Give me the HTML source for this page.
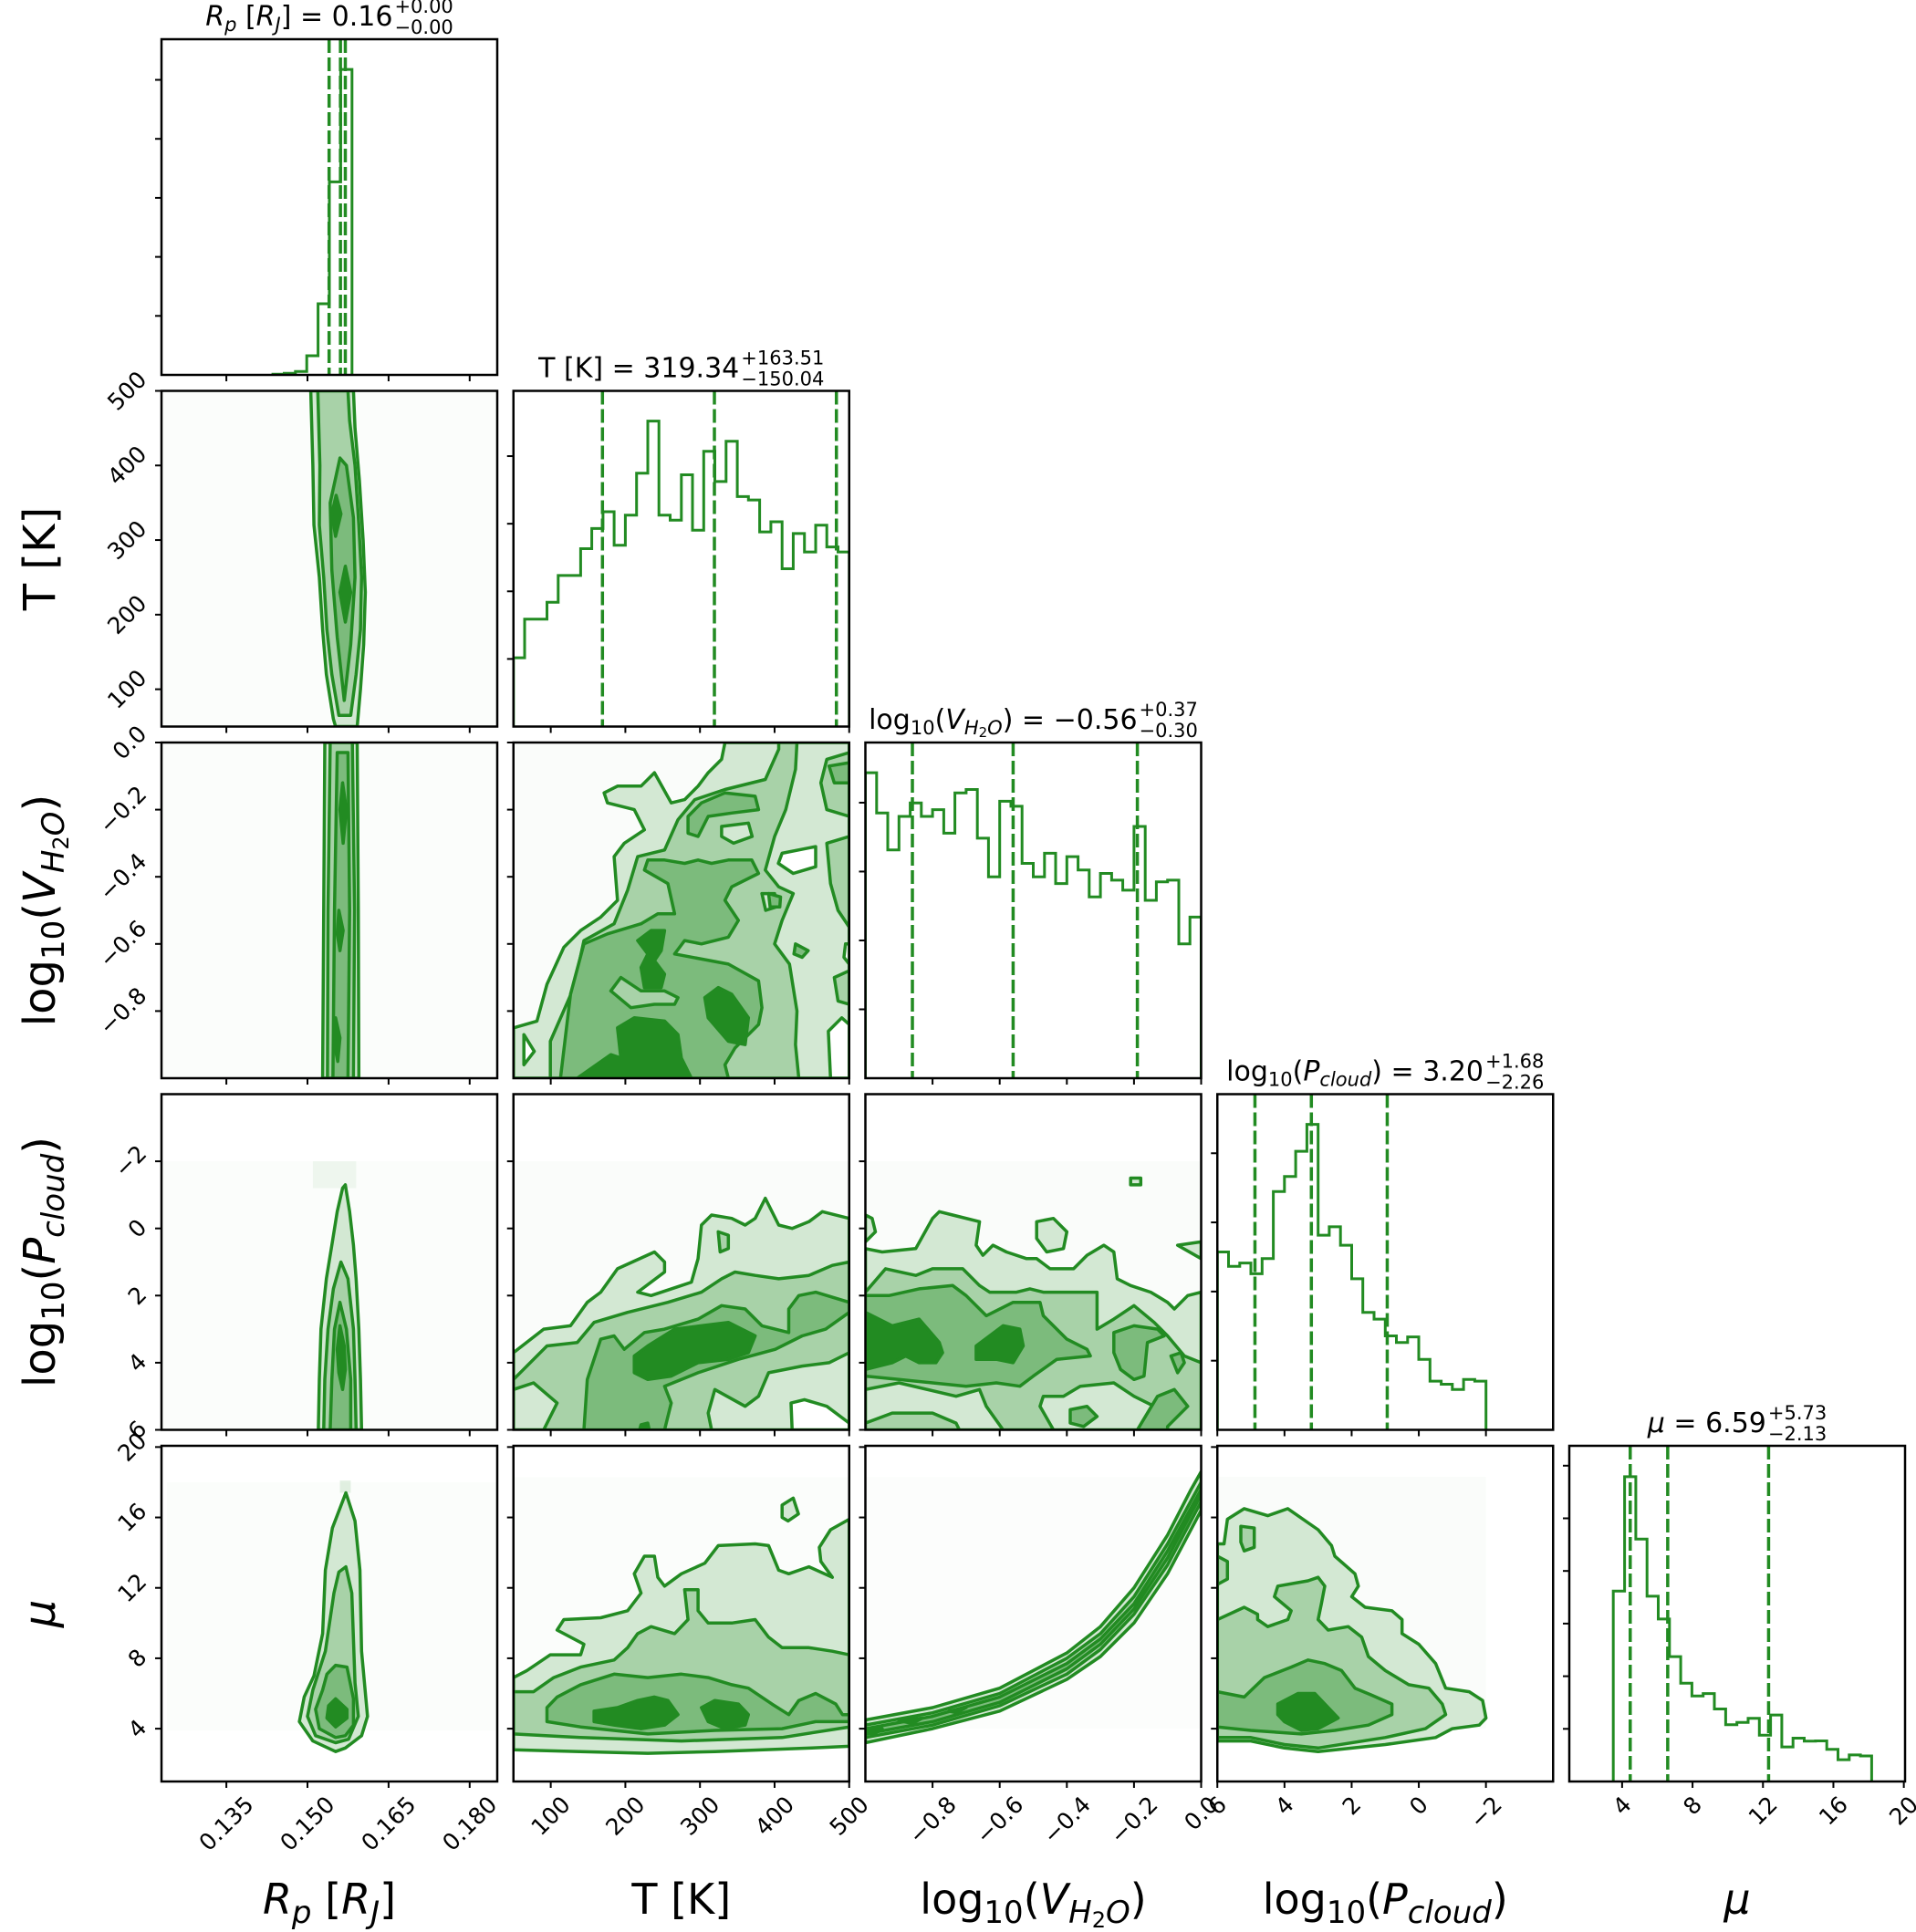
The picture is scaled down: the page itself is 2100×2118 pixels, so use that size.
<!DOCTYPE html>
<html><head><meta charset="utf-8">
<style>
html,body{margin:0;padding:0;background:#fff;}
svg{display:block;font-family:"DejaVu Sans","Liberation Sans",sans-serif;}
</style></head>
<body>
<svg id="fig" xmlns="http://www.w3.org/2000/svg" width="2100" height="2118" viewBox="0 0 2100 2118">
<rect width="2100" height="2118" fill="#ffffff"/>
<defs id="defs"></defs>
<g id="panels"></g>
<g id="labels"></g>
</svg>
<script>
// ---------- data ----------
const varNames = ['Rp','T','V','P','mu'];
const axisRange = [[0.123,0.1851],[50,500],[-1,0],[6,-4],[1,20.07]];
const tickValues = [[0.135,0.150,0.165,0.180],[100,200,300,400,500],[-0.8,-0.6,-0.4,-0.2,0.0],[6,4,2,0,-2],[4,8,12,16,20]];
const tickLabels = [['0.135','0.150','0.165','0.180'],['100','200','300','400','500'],['\u22120.8','\u22120.6','\u22120.4','\u22120.2','0.0'],['6','4','2','0','\u22122'],['4','8','12','16','20']];

const rpHistStart = 0.1436, rpHistStep = 0.00209;
const rpHist = [0.002,0.005,0.01,0.057,0.212,0.575,0.91];
const tHistStart = 50, tHistStep = 15;
const tHist = [.205,.32,.32,.37,.45,.45,.53,.59,.64,.54,.63,.755,.91,.63,.615,.75,.585,.82,.73,.85,.685,.675,.58,.61,.47,.575,.52,.60,.535,.52];
const vHistStart = -1, vHistStep = 1/30;
const vHist = [.91,.79,.68,.78,.82,.78,.80,.73,.85,.86,.715,.60,.825,.81,.64,.60,.67,.58,.66,.62,.54,.61,.59,.56,.75,.53,.585,.59,.40,.48];
const pHistStart = 6, pHistStep = -1/3;
const pHist = [.53,.487,.497,.465,.51,.71,.755,.83,.91,.58,.605,.55,.45,.35,.33,.28,.26,.277,.21,.145,.136,.12,.15,.145];
const muHistStart = 3.5, muHistStep = 0.638;
const muHist = [.567,.908,.722,.552,.484,.372,.293,.255,.262,.216,.169,.176,.188,.138,.198,.103,.129,.12,.121,.096,.065,.079,.076];

const rpQuant = [0.1540,0.1561,0.1570];
const tQuant = [169.30,319.34,482.85];
const vQuant = [-0.86,-0.56,-0.19];
const pQuant = [4.88,3.20,0.94];
const muQuant = [4.46,6.59,12.32];

const countTickStep = [0.1758,0.2014,0.2052,0.206,0.1568];
const countTickN = [5,4,4,4,6];

const titleUps = ['+0.00','+163.51','+0.37','+1.68','+5.73'];
const titleDowns = ['\u22120.00','\u2212150.04','\u22120.30','\u22122.26','\u22122.13'];

const tr_L1 = [[[0.1506,500],[0.1510,400],[0.1512,320],[0.1522,250],[0.1528,180],[0.1535,120],[0.1548,60],[0.1552,50],[0.1592,50],[0.1598,100],[0.1604,160],[0.1607,230],[0.1603,300],[0.1596,380],[0.1588,450],[0.1585,500]]];
const tr_L2 = [[[0.1519,500],[0.1523,400],[0.1522,320],[0.1530,250],[0.1536,180],[0.1545,120],[0.1558,65],[0.1580,65],[0.1590,120],[0.1598,180],[0.1600,250],[0.1595,320],[0.1588,400],[0.1578,460],[0.1575,500]]];
const tr_L3 = [[[0.1560,410],[0.1542,350],[0.1545,260],[0.1555,170],[0.1568,85],[0.1580,160],[0.1588,250],[0.1585,330],[0.1572,400]]];
const tr_L4 = [[[0.1553,360],[0.1545,335],[0.1552,305],[0.1562,335]],[[0.1570,265],[0.1560,230],[0.1570,190],[0.1580,230]]];

const vr_L1 = [[[0.1532,0],[0.1530,-0.5],[0.1528,-1],[0.1595,-1],[0.1594,-0.5],[0.1592,0]]];
const vr_L2 = [[[0.1542,0],[0.1538,-0.5],[0.1537,-1],[0.1585,-1],[0.1587,-0.5],[0.1583,0]]];
const vr_L3 = [[[0.1555,-0.03],[0.1550,-0.5],[0.1547,-1],[0.1575,-1],[0.1578,-0.5],[0.1575,-0.03]]];
const vr_L4 = [[[0.1565,-0.12],[0.1560,-0.2],[0.1566,-0.3],[0.1572,-0.2]],[[0.1558,-0.5],[0.1555,-0.57],[0.1560,-0.62],[0.1566,-0.56]],[[0.1552,-0.82],[0.1550,-0.9],[0.1556,-0.95],[0.1560,-0.88]]];

const pr_L1 = [[[0.1570,-1.3],[0.1578,-0.5],[0.1585,0.5],[0.1590,1.5],[0.1595,3],[0.1598,4.5],[0.1600,6],[0.1520,6],[0.1522,4.5],[0.1525,3],[0.1535,1.5],[0.1545,0.5],[0.1555,-0.5],[0.1565,-1.2]]];
const pr_L2 = [[[0.1562,1.0],[0.1575,1.5],[0.1585,3],[0.1588,4.5],[0.1590,6],[0.1530,6],[0.1532,4.5],[0.1538,3],[0.1548,1.8]]];
const pr_L3 = [[[0.1560,2.2],[0.1572,3],[0.1580,4.5],[0.1580,6],[0.1542,6],[0.1545,4.5],[0.1550,3]]];
const pr_L4 = [[[0.1560,2.9],[0.1568,3.5],[0.1570,4.2],[0.1565,4.8],[0.1558,4.3],[0.1555,3.6]]];

const mr_L1 = [[[0.1571,17.4],[0.1588,15.8],[0.1597,13],[0.1600,8.4],[0.1611,4.7],[0.1600,3.6],[0.1570,2.9],[0.1552,2.7],[0.1510,3.3],[0.1485,4.4],[0.1494,5.8],[0.1512,7],[0.1528,9.4],[0.1533,13],[0.1546,15.4]]];
const mr_L2 = [[[0.1571,13.2],[0.1582,11.7],[0.1588,6.6],[0.1594,4.7],[0.1576,3.4],[0.1552,3.2],[0.1515,3.6],[0.1500,4.7],[0.1510,6.2],[0.1533,8.4],[0.1549,11.7],[0.1558,12.9]]];
const mr_L3 = [[[0.1552,7.6],[0.1573,7.5],[0.1585,5.7],[0.1585,4.2],[0.1570,3.6],[0.1552,3.5],[0.1522,4.0],[0.1515,5.1],[0.1528,6.2],[0.1536,7.1]]];
const mr_L4 = [[[0.1552,5.7],[0.1573,5.1],[0.1573,4.6],[0.1552,4.1],[0.1536,4.6],[0.1539,5.3]]];

const tv_L1 = [[[50,-1],[50,-.85],[81.5,-.83],[95,-.72],[117.5,-.61],[140,-.56],[167,-.52],[189.5,-.47],[185,-.34],[198.5,-.3],[225.5,-.26],[212,-.2],[176,-.18],[171.5,-.15],[189.5,-.13],[221,-.13],[239,-.09],[261.5,-.18],[279.5,-.17],[297.5,-.13],[311,-.09],[329,-.05],[333.5,0],[500,0],[500,-1]]];
const tv_H0 = [[[410,-.33],[455,-.31],[455,-.37],[425,-.39],[405,-.36]],[[475,-1],[472,-.86],[490,-.82],[500,-.84],[500,-1]],[[410,-.7],[420,-.69],[423,-.77],[412,-.8],[405,-.74]],[[405,-.14],[420,-.13],[418,-.17],[403,-.17]],[[495,-.6],[500,-.6],[500,-.66],[493,-.64]],[[64,-.87],[78,-.92],[64,-.96]]];
const tv_L2 = [[[99.5,-1],[99.5,-.89],[131,-.73],[144.5,-.59],[185,-.54],[203,-.44],[216.5,-.34],[252.5,-.32],[270.5,-.23],[293,-.17],[333.5,-.14],[387.5,-.11],[405.5,-.02],[405.5,0],[430,0],[428,-.08],[415,-.2],[400,-.28],[387.5,-.38],[405.5,-.43],[425,-.45],[410,-.53],[400,-.6],[420,-.66],[430,-.8],[428,-.9],[432.5,-1]],
  [[470,-.05],[500,-.03],[500,-.22],[470,-.2],[462,-.12]],[[470,-.3],[500,-.28],[500,-.55],[485,-.5],[475,-.42]],[[480,-.7],[500,-.68],[500,-.78],[485,-.77]]];
const tv_H1 = [[[329,-.25],[365,-.24],[370,-.28],[345,-.3],[329,-.28]],[[383,-.45],[400,-.45],[402,-.49],[388,-.5]]];
const tv_L3 = [[[113,-1],[126.5,-.75],[144.5,-.6],[176,-.57],[221,-.54],[243.5,-.51],[266,-.51],[257,-.42],[225.5,-.38],[230,-.35],[252.5,-.35],[279.5,-.36],[297.5,-.35],[315.5,-.36],[338,-.35],[369.5,-.35],[378.5,-.39],[342.5,-.43],[333.5,-.47],[351.5,-.53],[338,-.58],[302,-.6],[279.5,-.59],[266,-.63],[338,-.66],[378.5,-.71],[383,-.79],[378.5,-.84],[347,-.91],[333.5,-.96],[338,-1]],
  [[284,-.22],[302,-.18],[333.5,-.15],[374,-.16],[378.5,-.2],[342.5,-.21],[311,-.22],[297.5,-.28],[284,-.27]],
  [[473,-.07],[500,-.06],[500,-.12],[480,-.12]],[[392,-.45],[408,-.46],[407,-.49],[394,-.49]],[[428,-.6],[445,-.62],[437,-.64],[426,-.63]]];
const tv_H2 = [[[180.5,-.74],[194,-.7],[221,-.74],[252.5,-.74],[270.5,-.76],[266,-.78],[239,-.78],[207.5,-.79]]];
const tv_L4 = [[[216.5,-.59],[234.5,-.56],[252.5,-.56],[248,-.62],[239,-.65],[252.5,-.69],[248,-.73],[225.5,-.73],[221,-.67],[230,-.63]],
  [[306.5,-.76],[324.5,-.73],[342.5,-.75],[365,-.82],[360.5,-.9],[338,-.89],[311,-.82]],
  [[135.5,-1],[180.5,-.93],[194,-.94],[189.5,-.85],[212,-.82],[252.5,-.83],[270.5,-.87],[275,-.94],[288.5,-1]]];

const tp_L1 = [[[50,3.7],[90.5,3],[126.5,2.9],[149,2.2],[167,1.9],[189.5,1.2],[239,0.7],[252.5,1],[252.5,1.3],[216.5,1.9],[234.5,2],[275,1.7],[288.5,1.6],[297.5,0.9],[302,-0.1],[315.5,-0.4],[342.5,-0.3],[360.5,-0.1],[374,-0.3],[387.5,-0.9],[405.5,-0.1],[423.5,0],[446,-0.2],[464,-0.5],[500,-0.3],[500,6],[50,6]]];
const tp_H0 = [[[423.5,6],[422,5.2],[440,5.1],[470,5.3],[500,5.8],[500,6]]];
const tp_L2 = [[[50,4.5],[95,3.5],[135.5,3.4],[158,2.8],[203,2.5],[257,2.2],[302,1.9],[329,1.5],[347,1.3],[374,1.4],[405.5,1.5],[446,1.4],[477.5,1.1],[500,1],[500,3.7],[473,4],[437,4.1],[392,4.3],[378.5,5],[360.5,5.3],[320,4.8],[311,5.5],[315.5,6],[90.5,6],[108.5,5.2],[77,4.6],[50,4.8]],[[324.5,0.1],[338,0.2],[338,0.6],[327,0.7]]];
const tp_L3 = [[[144.5,6],[149,4.5],[167,3.3],[185,3.2],[198.5,3.6],[225.5,3.1],[252.5,3],[297.5,2.7],[329,2.3],[360.5,2.4],[383,2.9],[419,3.1],[419,2.4],[432.5,2],[455,1.9],[500,2.2],[500,2.5],[468.5,3],[437,3.2],[401,3.6],[351.5,3.9],[297.5,4.3],[252.5,4.7],[261.5,5.2],[252.5,6]]];
const tp_L4 = [[[212,3.8],[230,3.5],[266,3],[302,2.9],[338,2.8],[374,3.2],[365,3.7],[338,3.9],[297.5,4],[261.5,4.4],[230,4.5],[212,4.3]],[[221,5.85],[230,5.8],[232,6],[219,6]]];

const vp_L1 = [[[-1,0.6],[-0.95,0.7],[-0.85,0.6],[-0.8,-0.3],[-0.78,-0.5],[-0.74,-0.4],[-0.66,-0.2],[-0.67,0.5],[-0.65,0.8],[-0.62,0.5],[-0.58,0.7],[-0.52,0.9],[-0.49,0.9],[-0.45,1.2],[-0.42,1.2],[-0.38,1.2],[-0.34,0.8],[-0.29,0.5],[-0.26,0.7],[-0.25,1.5],[-0.21,1.7],[-0.15,1.9],[-0.1,2.2],[-0.08,2.4],[-0.04,2],[0,1.9],[0,6],[-1,6]],
  [[-1,-0.4],[-0.98,-0.3],[-0.97,0.1],[-1,0.4]],[[-0.49,-0.2],[-0.44,-0.3],[-0.4,0.1],[-0.41,0.6],[-0.46,0.7],[-0.49,0.3]],[[-0.21,-1.5],[-0.18,-1.5],[-0.18,-1.3],[-0.21,-1.3]],[[-0.07,0.5],[0,0.4],[0,0.9]]];
const vp_L2 = [[[-1,1.9],[-0.94,1.2],[-0.85,1.4],[-0.8,1.2],[-0.71,1.2],[-0.66,1.7],[-0.63,1.9],[-0.55,1.9],[-0.51,1.8],[-0.47,1.9],[-0.4,1.9],[-0.31,1.9],[-0.31,3],[-0.26,2.7],[-0.2,2.3],[-0.14,2.8],[-0.1,3.2],[-0.05,3.8],[0,4],[0,6],[-0.13,6],[-0.15,5.9],[-0.14,5.3],[-0.2,5],[-0.26,4.6],[-0.36,4.7],[-0.41,5],[-0.47,5],[-0.48,5.3],[-0.44,6],[-0.59,6],[-0.64,5.3],[-0.66,4.8],[-0.73,5],[-0.9,4.6],[-1,4.8]],
  [[-1,5.8],[-0.92,5.5],[-0.8,5.5],[-0.73,5.8],[-0.72,6],[-1,6]]];
const vp_L3 = [[[-1,2],[-0.93,2],[-0.84,1.8],[-0.74,1.7],[-0.7,2],[-0.64,2.6],[-0.56,2.2],[-0.48,2.2],[-0.47,2.6],[-0.4,3.3],[-0.34,3.6],[-0.33,3.8],[-0.43,3.9],[-0.5,4.4],[-0.54,4.7],[-0.61,4.6],[-0.7,4.7],[-0.8,4.6],[-0.9,4.5],[-1,4.4]],
  [[-0.26,3.1],[-0.2,2.9],[-0.13,3],[-0.11,3.2],[-0.16,3.4],[-0.17,4.4],[-0.2,4.5],[-0.24,4.2],[-0.26,3.7]],
  [[-0.09,3.8],[-0.06,3.7],[-0.05,4],[-0.07,4.3]],[[-0.19,6],[-0.13,5],[-0.08,4.8],[-0.04,5.3],[-0.1,5.9],[-0.1,6]],[[-0.39,5.4],[-0.34,5.3],[-0.31,5.6],[-0.35,5.9],[-0.39,5.8]]];
const vp_L4 = [[[-1,2.5],[-0.92,2.9],[-0.84,2.7],[-0.78,3.4],[-0.77,3.7],[-0.79,4],[-0.84,4],[-0.88,3.8],[-0.92,4],[-1,4.2]],[[-0.67,3.5],[-0.59,2.9],[-0.54,3],[-0.53,3.5],[-0.56,4],[-0.61,3.9],[-0.67,3.9]]];

const tm_L1 = [[[50,6.9],[68,7.3],[99.5,8.2],[140,8.2],[144.5,8.8],[108.5,9.6],[117.5,10.2],[167,10.3],[203,10.7],[221,11.7],[212,12.8],[225.5,13.8],[239,13.8],[243.5,12.6],[252.5,12.1],[275,12.8],[306.5,13.4],[324.5,14.4],[374,14.5],[392,14.4],[405.5,13],[419,12.8],[446,13.2],[477.5,12.6],[462,13.5],[460,14.3],[475,15.3],[500,15.9],[500,3.0],[450,2.9],[320,2.7],[230,2.6],[140,2.7],[50,2.8]],
  [[410,16.7],[425,17.1],[432,16.2],[418,15.8],[410,16]]];
const tm_L2 = [[[50,6.1],[77,6.1],[104,6.9],[140,7.5],[185,7.9],[203,8.6],[216.5,9.4],[234.5,9.8],[266,9.4],[284,10.2],[279.5,11.9],[297.5,11.9],[297.5,10.7],[311,10],[342.5,10],[374,10.2],[392,9.2],[410,8.6],[446,8.6],[477.5,8.4],[500,8.2],[500,4.1],[410,3.5],[275,3.3],[140,3.5],[50,3.7]]];
const tm_L3 = [[[95,5.2],[108.5,5.8],[140,6.5],[185,7.1],[230,6.9],[275,7.1],[311,6.9],[342.5,6.5],[365,6.3],[396.5,5.4],[419,4.8],[432.5,5.6],[455,6],[482,5.4],[491,4.8],[500,4.8],[500,4.4],[455,4.4],[410,4.0],[320,3.9],[230,3.7],[140,4.1],[95,4.4]]];
const tm_L4 = [[[158,5],[189.5,5.2],[216.5,5.6],[239,5.8],[257,5.6],[270.5,4.8],[252.5,4.2],[221,4.0],[185,4.2],[158,4.4]],[[302,5.2],[320,5.6],[351.5,5.4],[365,4.8],[360.5,4.2],[333.5,4.0],[311,4.4]]];

const vm_L1 = [[[-1,4.5],[-0.8,5.2],[-0.6,6.3],[-0.4,8.3],[-0.3,9.8],[-0.2,12],[-0.1,15],[-0.03,17.6],[0,18.6],[0,16.4],[-0.1,12.8],[-0.2,10],[-0.3,8.1],[-0.4,6.8],[-0.6,5],[-0.8,4.0],[-1,3.2]]];
const vm_L2 = [[[-1,4.2],[-0.8,4.9],[-0.6,6],[-0.4,8],[-0.3,9.4],[-0.2,11.5],[-0.1,14.5],[0,18],[0,16.9],[-0.1,13.3],[-0.2,10.5],[-0.3,8.5],[-0.4,7.1],[-0.6,5.3],[-0.8,4.2],[-1,3.5]]];
const vm_L3 = [[[-1,4.0],[-0.8,4.7],[-0.6,5.8],[-0.4,7.7],[-0.3,9.1],[-0.2,11.1],[-0.1,14.1],[0,17.6],[0,17.3],[-0.1,13.7],[-0.2,10.8],[-0.3,8.8],[-0.4,7.4],[-0.6,5.5],[-0.8,4.4],[-1,3.7]]];
const vm_L4 = [[[-1,4.0],[-0.95,4.0],[-0.97,3.75],[-1,3.7]],[[-0.9,4.45],[-0.83,4.6],[-0.86,4.3]],[[-0.75,5.0],[-0.7,5.2],[-0.73,4.9]]];

const pm_L1 = [[[6,14.5],[5.8,14.5],[5.7,15.9],[5.2,16.5],[4.5,16.1],[3.9,16.5],[3,15.3],[2.6,14.4],[2.5,13.8],[1.9,12.8],[1.8,12.1],[2,11.5],[1.6,10.9],[0.8,10.7],[0.5,10.2],[0.5,9.4],[0,8.8],[-0.5,7.7],[-0.8,6.3],[-1.5,6.1],[-1.9,5.6],[-2,4.6],[-1.8,4.2],[-1,4.0],[-0.5,3.5],[1,3.1],[3,2.7],[4,2.9],[5,3.3],[6,3.3]]];
const pm_L2 = [[[6,10.2],[5.2,10.9],[4.8,10.5],[4.8,10.2],[4.5,9.8],[3.9,10.2],[3.8,10.7],[4.3,11.5],[4.2,12.1],[3.3,12.4],[3,12.6],[2.8,12.1],[2.9,11.1],[3,10.2],[2.7,9.6],[2.1,9.8],[1.7,9.2],[1.5,8.1],[1,7.3],[0.3,6.5],[-0.3,6.3],[-0.7,5.4],[-0.8,4.8],[-0.2,4.0],[1,3.5],[3,2.9],[4,3.1],[5,3.5],[6,3.5]],
  [[5.3,15.5],[4.9,15.4],[4.9,14.3],[5.2,14.1],[5.3,14.6]],[[6,13.8],[5.7,13.5],[5.7,12.5],[6,12.2]]];
const pm_L3 = [[[6,6.1],[5.2,5.8],[4.6,6.9],[3.8,7.5],[3.3,7.9],[2.8,7.7],[2.3,7.3],[1.9,6.3],[1.4,5.9],[0.8,5.4],[0.8,4.8],[1.5,4.2],[2.5,3.9],[3.5,3.7],[5,3.9],[6,4.1]]];
const pm_L4 = [[[4.2,5.4],[3.6,6],[3.1,6],[2.6,5],[2.4,4.6],[3,4.0],[3.5,3.9],[4,4.4],[4.2,4.8]]];

const dotsTR = [[0.123,0.1851,50,500,0.02]];
const dotsVR = [[0.123,0.1851,-1,0,0.02]];
const dotsPR = [[0.123,0.1851,-2,6,0.02],[0.151,0.159,-2,-1.2,0.06]];
const dotsMR = [[0.124,0.185,3.9,18,0.02],[0.156,0.158,17.4,18.1,0.12]];
const dotsTV = [[50,500,-1,0,0.025]];
const dotsTP = [[50,500,-2,6,0.025]];
const dotsVP = [[-1,0,-2,6,0.025]];
const dotsTM = [[50,500,4,18.3,0.02]];
const dotsVM = [[-1,0,4,18.3,0.015]];
const dotsPM = [[6,-2,4,18.3,0.025]];

const panels2d = [
 {r:1,c:0,name:'t-vs-rp',dots:dotsTR,layers:[[1,tr_L1],[2,tr_L2],[3,tr_L3],[4,tr_L4]]},
 {r:2,c:0,name:'vh2o-vs-rp',dots:dotsVR,layers:[[1,vr_L1],[2,vr_L2],[3,vr_L3],[4,vr_L4]]},
 {r:2,c:1,name:'vh2o-vs-t',dots:dotsTV,layers:[[1,tv_L1],[0,tv_H0],[2,tv_L2],[1,tv_H1],[3,tv_L3],[2,tv_H2],[4,tv_L4]]},
 {r:3,c:0,name:'pcloud-vs-rp',dots:dotsPR,layers:[[1,pr_L1],[2,pr_L2],[3,pr_L3],[4,pr_L4]]},
 {r:3,c:1,name:'pcloud-vs-t',dots:dotsTP,layers:[[1,tp_L1],[0,tp_H0],[2,tp_L2],[3,tp_L3],[4,tp_L4]]},
 {r:3,c:2,name:'pcloud-vs-vh2o',dots:dotsVP,layers:[[1,vp_L1],[2,vp_L2],[3,vp_L3],[4,vp_L4]]},
 {r:4,c:0,name:'mu-vs-rp',dots:dotsMR,layers:[[1,mr_L1],[2,mr_L2],[3,mr_L3],[4,mr_L4]]},
 {r:4,c:1,name:'mu-vs-t',dots:dotsTM,layers:[[1,tm_L1],[2,tm_L2],[3,tm_L3],[4,tm_L4]]},
 {r:4,c:2,name:'mu-vs-vh2o',dots:dotsVM,layers:[[1,vm_L1],[2,vm_L2],[3,vm_L3],[4,vm_L4]]},
 {r:4,c:3,name:'mu-vs-pcloud',dots:dotsPM,layers:[[1,pm_L1],[2,pm_L2],[3,pm_L3],[4,pm_L4]]}
];
const hists = [
 {i:0,start:rpHistStart,step:rpHistStep,h:rpHist,q:rpQuant},
 {i:1,start:tHistStart,step:tHistStep,h:tHist,q:tQuant},
 {i:2,start:vHistStart,step:vHistStep,h:vHist,q:vQuant},
 {i:3,start:pHistStart,step:pHistStep,h:pHist,q:pQuant},
 {i:4,start:muHistStart,step:muHistStep,h:muHist,q:muQuant}
];

// ---------- layout / scales ----------
const NS = 'http://www.w3.org/2000/svg';
const L0 = 177, DX = 385.75, T0 = 43, DY = 385.5, S = 368;
const GREEN = '#228b22';
const TICKFS = 25;
const levelFill = ['#ffffff','#d3e8d3','#a8d2a8','#7cbb7c','#228b22'];
function colLeft(c){return L0 + c*DX;}
function rowTop(r){return T0 + r*DY;}
function sx(v,c){const q=axisRange[c];return colLeft(c)+(v-q[0])/(q[1]-q[0])*S;}
function sy(v,r){const q=axisRange[r];return rowTop(r)+S-(v-q[0])/(q[1]-q[0])*S;}
function mk(tag,attrs,parent){const e=document.createElementNS(NS,tag);for(const k in attrs)e.setAttribute(k,attrs[k]);parent.appendChild(e);return e;}

const gP = document.getElementById('panels');
const gL = document.getElementById('labels');
const defsEl = document.getElementById('defs');

function clipFor(r,c){
  const id='clip-'+r+'-'+c;
  const cp=mk('clipPath',{id:id},defsEl);
  mk('rect',{x:colLeft(c),y:rowTop(r),width:S,height:S},cp);
  return 'url(#'+id+')';
}
function drawFrame(r,c,name,parent){
  const f=mk('rect',{x:colLeft(c),y:rowTop(r),width:S,height:S,fill:'none',stroke:'#000','stroke-width':2.5},parent);
  
  
}
function xTicks(r,c,parent){
  const vals=tickValues[c];
  for(let k=0;k<vals.length;k++){
    const x=sx(vals[k],c), y=rowTop(r)+S;
    const t=mk('line',{x1:x,x2:x,y1:y,y2:y+7,stroke:'#000','stroke-width':2},parent);
    
    
    if(r===4){
      const tx=mk('text',{'font-size':TICKFS,'text-anchor':'middle','dominant-baseline':'central'},gL);
      tx.textContent=tickLabels[c][k];
      
      
      const w=tx.getComputedTextLength();
      const cy=y+12+(w+TICKFS)*0.707/2;
      tx.setAttribute('x',x);tx.setAttribute('y',cy);
      tx.setAttribute('transform','rotate(-45 '+x+' '+cy+')');
    }
  }
}
function yTicks(r,c,parent){
  const vals=tickValues[r];
  for(let k=0;k<vals.length;k++){
    const y=sy(vals[k],r), x=colLeft(c);
    const t=mk('line',{x1:x-7,x2:x,y1:y,y2:y,stroke:'#000','stroke-width':2},parent);
    
    
    if(c===0){
      const tx=mk('text',{'font-size':TICKFS,'text-anchor':'middle','dominant-baseline':'central'},gL);
      tx.textContent=tickLabels[r][k];
      
      
      const w=tx.getComputedTextLength();
      const cx=x-12-(w+TICKFS)*0.707/2;
      tx.setAttribute('x',cx);tx.setAttribute('y',y);
      tx.setAttribute('transform','rotate(-45 '+cx+' '+y+')');
    }
  }
}
function polyPath(poly,r,c){
  let d='';
  for(let k=0;k<poly.length;k++){d+=(k?'L':'M')+sx(poly[k][0],c).toFixed(1)+','+sy(poly[k][1],r).toFixed(1);}
  return d+'Z';
}

// ---------- 2D panels ----------
for(const p of panels2d){
  const g=mk('g',{'clip-path':clipFor(p.r,p.c)},gP);
  
  
  for(const d of p.dots){
    const x1=sx(d[0],p.c), x2=sx(d[1],p.c), y1=sy(d[2],p.r), y2=sy(d[3],p.r);
    const rr=mk('rect',{x:Math.min(x1,x2),y:Math.min(y1,y2),width:Math.abs(x2-x1),height:Math.abs(y2-y1),fill:GREEN,'fill-opacity':d[4]},g);
    
    
  }
  for(const layer of p.layers){
    const lev=layer[0];
    for(const poly of layer[1]){
      const path=mk('path',{d:polyPath(poly,p.r,p.c),fill:levelFill[lev],stroke:GREEN,'stroke-width':3.5,'stroke-linejoin':'round'},g);
      
      
    }
  }
  const ga=mk('g',{},gP);
  
  
  xTicks(p.r,p.c,ga);
  yTicks(p.r,p.c,ga);
  drawFrame(p.r,p.c,p.name,ga);
}

// ---------- histograms ----------
for(const h of hists){
  const i=h.i;
  const g=mk('g',{'clip-path':clipFor(i,i)},gP);
  
  
  const base=rowTop(i)+S;
  const hy=(v)=>base-v*S;
  let d='M'+sx(h.start,i).toFixed(1)+','+base;
  for(let k=0;k<h.h.length;k++){
    const xa=sx(h.start+k*h.step,i), xb=sx(h.start+(k+1)*h.step,i), y=hy(h.h[k]);
    d+='L'+xa.toFixed(1)+','+y.toFixed(1)+'L'+xb.toFixed(1)+','+y.toFixed(1);
  }
  d+='L'+sx(h.start+h.h.length*h.step,i).toFixed(1)+','+base;
  const path=mk('path',{d:d,fill:'none',stroke:GREEN,'stroke-width':3},g);
  
  
  for(const qv of h.q){
    const x=sx(qv,i);
    const ln=mk('line',{x1:x,x2:x,y1:rowTop(i),y2:base,stroke:GREEN,'stroke-width':3.5,'stroke-dasharray':'15 5'},g);
    
    
  }
  const ga=mk('g',{},gP);
  
  
  xTicks(i,i,ga);
  for(let k=1;k<=countTickN[i];k++){
    const y=hy(k*countTickStep[i]);
    const t=mk('line',{x1:colLeft(i)-7,x2:colLeft(i),y1:y,y2:y,stroke:'#000','stroke-width':2},ga);
    
    
  }
  drawFrame(i,i,'hist-'+varNames[i],ga);
}

// ---------- titles ----------
const SUB='font-size="21" dy="6"', UP='dy="-6"';
const titleMains=[
 '<tspan font-style="italic">R</tspan><tspan font-style="italic" '+SUB+'>p</tspan><tspan '+UP+'> [</tspan><tspan font-style="italic">R</tspan><tspan font-style="italic" '+SUB+'>J</tspan><tspan '+UP+'>] = 0.16</tspan>',
 'T [K] = 319.34',
 'log<tspan '+SUB+'>10</tspan><tspan '+UP+'>(</tspan><tspan font-style="italic">V</tspan><tspan font-style="italic" '+SUB+'>H</tspan><tspan font-size="15" dy="3">2</tspan><tspan font-style="italic" font-size="21" dy="-3">O</tspan><tspan '+UP+'>) = \u22120.56</tspan>',
 'log<tspan '+SUB+'>10</tspan><tspan '+UP+'>(</tspan><tspan font-style="italic">P</tspan><tspan font-style="italic" '+SUB+'>cloud</tspan><tspan '+UP+'>) = 3.20</tspan>',
 '<tspan font-style="italic">\u03bc</tspan> = 6.59'
];
for(let i=0;i<5;i++){
  const t0=rowTop(i);
  const m=mk('text',{x:0,y:t0-15,'font-size':30},gL);
  m.innerHTML=titleMains[i];
  
  
  const u=mk('text',{x:0,y:t0-29,'font-size':21},gL);
  u.textContent=titleUps[i];
  
  
  const dn=mk('text',{x:0,y:t0-6,'font-size':21},gL);
  dn.textContent=titleDowns[i];
  
  
  const w1=m.getComputedTextLength(), w2=Math.max(u.getComputedTextLength(),dn.getComputedTextLength());
  const x0=colLeft(i)+S/2-(w1+2+w2)/2;
  m.setAttribute('x',x0);
  u.setAttribute('x',x0+w1+2);
  dn.setAttribute('x',x0+w1+2);
}

// ---------- axis labels ----------
const LSUB='font-size="34" dy="10"', LUP='dy="-10"';
const axisLabelHtml=[
 '<tspan font-style="italic">R</tspan><tspan font-style="italic" '+LSUB+'>p</tspan><tspan '+LUP+'> [</tspan><tspan font-style="italic">R</tspan><tspan font-style="italic" '+LSUB+'>J</tspan><tspan '+LUP+'>]</tspan>',
 'T [K]',
 'log<tspan '+LSUB+'>10</tspan><tspan '+LUP+'>(</tspan><tspan font-style="italic">V</tspan><tspan font-style="italic" '+LSUB+'>H</tspan><tspan font-size="24" dy="5">2</tspan><tspan font-style="italic" font-size="34" dy="-5">O</tspan><tspan '+LUP+'>)</tspan>',
 'log<tspan '+LSUB+'>10</tspan><tspan '+LUP+'>(</tspan><tspan font-style="italic">P</tspan><tspan font-style="italic" '+LSUB+'>cloud</tspan><tspan '+LUP+'>)</tspan>',
 '<tspan font-style="italic">\u03bc</tspan>'
];
for(let c=0;c<5;c++){
  const cx=colLeft(c)+S/2;
  const t=mk('text',{x:cx,y:2098,'font-size':46,'text-anchor':'middle'},gL);
  t.innerHTML=axisLabelHtml[c];
  
  
}
for(let r=1;r<5;r++){
  const cy=rowTop(r)+S/2;
  const t=mk('text',{x:60,y:cy,'font-size':48,'text-anchor':'middle',transform:'rotate(-90 60 '+cy+')'},gL);
  t.innerHTML=axisLabelHtml[r];
  
  
}
</script>
</body></html>
